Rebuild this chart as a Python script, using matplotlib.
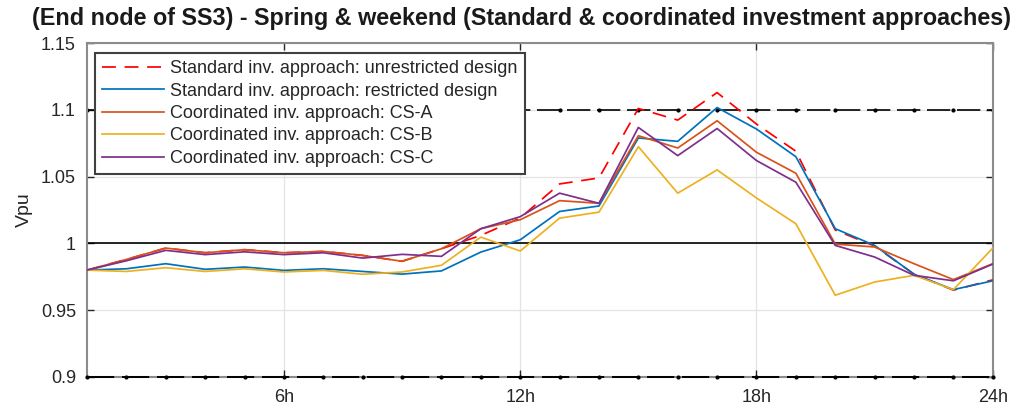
import matplotlib
matplotlib.use("Agg")
import matplotlib.pyplot as plt
import numpy as np

hours = list(range(1, 25))
unrestricted = [0.980, 0.988, 0.9965, 0.993, 0.9953, 0.993, 0.994, 0.991, 0.9866, 0.996,
                1.006, 1.019, 1.0445, 1.049, 1.101, 1.0923, 1.1129, 1.0893, 1.069, 1.0100,
                0.998, 0.977, 0.965, 0.9727]
restricted = [0.980, 0.981, 0.9848, 0.9806, 0.9823, 0.9798, 0.981, 0.979, 0.977, 0.9794,
              0.9935, 1.0027, 1.0239, 1.028, 1.0789, 1.0764, 1.1017, 1.0856, 1.0649, 1.011,
              0.9985, 0.9769, 0.9654, 0.972]
cs_a = [0.980, 0.988, 0.9965, 0.993, 0.9953, 0.993, 0.994, 0.991, 0.9866, 0.996,
        1.011, 1.0177, 1.032, 1.030, 1.0806, 1.0714, 1.0918, 1.0682, 1.0525, 0.9995,
        0.9973, 0.9848, 0.9729, 0.9848]
cs_b = [0.980, 0.979, 0.9818, 0.979, 0.981, 0.9786, 0.9798, 0.9769, 0.9786, 0.9836,
        1.0047, 0.9943, 1.0189, 1.0234, 1.0724, 1.0376, 1.055, 1.034, 1.0147, 0.9612,
        0.9711, 0.9761, 0.9654, 0.9965]
cs_c = [0.980, 0.987, 0.9948, 0.9916, 0.9937, 0.9916, 0.993, 0.989, 0.9918, 0.9903,
        1.011, 1.020, 1.0376, 1.030, 1.0868, 1.0657, 1.086, 1.062, 1.0458, 0.9985,
        0.9898, 0.9761, 0.972, 0.9845]
upper_limit = [1.1] * 24
lower_limit = [0.9] * 24

labels = ["Standard inv. approach: unrestricted design",
          "Standard inv. approach: restricted design",
          "Coordinated inv. approach: CS-A",
          "Coordinated inv. approach: CS-B",
          "Coordinated inv. approach: CS-C"]
xticks = [6, 12, 18, 24]
xticklabels = ["6h", "12h", "18h", "24h"]
yticks = [0.9, 0.95, 1.0, 1.05, 1.1, 1.15]
yticklabels = ["0.9", "0.95", "1", "1.05", "1.1", "1.15"]
title = "(End node of SS3) - Spring & weekend (Standard & coordinated investment approaches)"

plt.rcParams['font.family'] = ['Liberation Sans', 'DejaVu Sans']

fig = plt.figure(figsize=(10.12, 4.08), dpi=100)
ax = fig.add_axes([0.086, 0.076, 0.895, 0.8186])

ax.grid(True, color='#e3e3e3', linewidth=0.9, zorder=0)
ax.set_axisbelow(True)

ax.plot(hours, upper_limit, color='black', linestyle=(0, (14, 4)), linewidth=1.2,
        marker='.', markersize=4, zorder=2)
ax.plot(hours, lower_limit, color='black', linestyle=(0, (14, 4)), linewidth=1.4,
        marker='.', markersize=4, zorder=3, clip_on=False)
ax.axhline(1.0, color='black', linewidth=1.2, zorder=2)

lw = 1.25
l1, = ax.plot(hours, unrestricted, color='#FF0000', linestyle=(0, (8, 5)), linewidth=lw, zorder=3)
l2, = ax.plot(hours, restricted, color='#0072BD', linewidth=lw, zorder=4)
l3, = ax.plot(hours, cs_a, color='#D95319', linewidth=lw, zorder=5)
l4, = ax.plot(hours, cs_b, color='#EDB120', linewidth=lw, zorder=6)
l5, = ax.plot(hours, cs_c, color='#7E2F8E', linewidth=lw, zorder=7)

ax.set_xlim(1, 24)
ax.set_ylim(0.9, 1.15)
ax.set_xticks(xticks)
ax.set_xticklabels(xticklabels)
ax.set_yticks(yticks)
ax.set_yticklabels(yticklabels)
ax.tick_params(direction='in', length=5, width=1, top=True, right=True,
               labelsize=13, colors='#262626')
ax.tick_params(axis='x', pad=9)
ax.tick_params(axis='y', pad=8)
for s in ax.spines.values():
    s.set_color('#8c8c8c')
    s.set_linewidth(1.5)

ax.set_ylabel("Vpu", fontsize=14, color='#262626', labelpad=6)
fig.text(521.5 / 1012, 1 - 18 / 408, title, ha='center', va='center',
         fontsize=16.8, fontweight='bold', color='#1a1a1a')

leg = ax.legend([l1, l2, l3, l4, l5], labels, loc='upper left',
                bbox_to_anchor=(0.0088, 0.970), borderaxespad=0, fontsize=13,
                handlelength=3.4, handletextpad=0.35, labelspacing=0.3,
                fancybox=False, framealpha=1, edgecolor='#404040',
                borderpad=0.4)
leg.get_frame().set_linewidth(1.5)
for t in leg.get_texts():
    t.set_color('#262626')

fig.savefig("out.png", dpi=100)
